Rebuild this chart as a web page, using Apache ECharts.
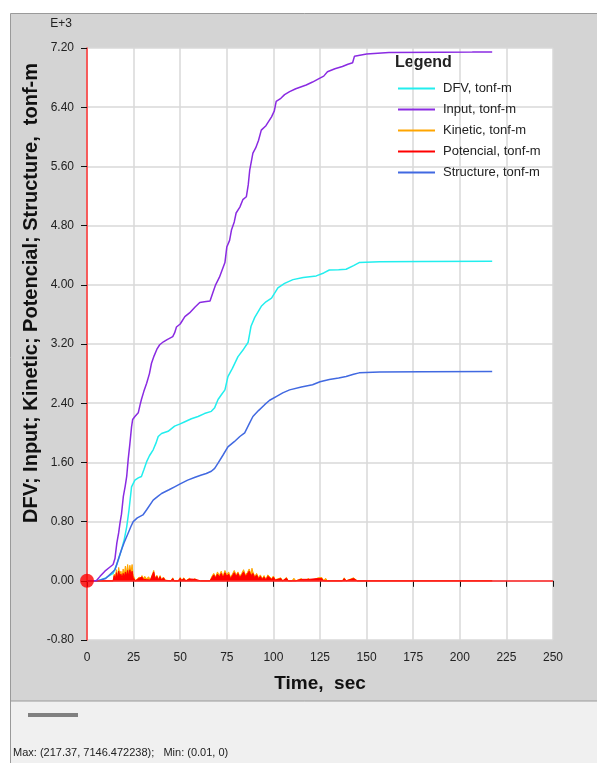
<!DOCTYPE html>
<html>
<head>
<meta charset="utf-8">
<title>Energy</title>
<script src="https://cdn.jsdelivr.net/npm/echarts@6/dist/echarts.min.js"></script>
<style>
  html, body { margin: 0; padding: 0; background: #fff; }
  #main { width: 597px; height: 763px; }
</style>
</head>
<body>
<div id="main"></div>
<script>
var chart = echarts.init(document.getElementById('main'));

// series names (legend)
var names = ['DFV, tonf-m', 'Input, tonf-m', 'Kinetic, tonf-m', 'Potencial, tonf-m', 'Structure, tonf-m'];

// [time sec, tonf-m]
var inputData = [
  [0,0],[5,0],[7,60],[9.6,130],[12,180],[14,220],[15,300],[16,510],[17,650],[17.7,780],
  [18.5,900],[19.5,1140],[20.5,1280],[21.3,1410],[22.1,1640],[23,1850],[23.9,2080],[24.5,2180],
  [25.7,2220],[27.5,2270],[28.5,2380],[29.2,2450],[30.5,2560],[32,2670],[33.5,2800],[34.6,2940],
  [36,3040],[37.5,3130],[39,3190],[41,3230],[43,3260],[46,3300],[47,3350],[48,3430],[50,3470],
  [52.5,3570],[55,3620],[58,3700],[60.5,3760],[63,3770],[66,3780],[67.6,3900],[69,4000],[71,4100],
  [72.5,4200],[74,4300],[75,4510],[76.5,4600],[77.5,4740],[79,4850],[80,4970],[82,5050],[83.6,5150],
  [85.5,5190],[86.5,5350],[87.3,5550],[89,5780],[90.5,5850],[92,5950],[93.5,6090],[96,6150],
  [99,6270],[100.5,6350],[101.5,6480],[104,6520],[106,6570],[108.7,6610],[112,6650],[117.6,6700],
  [121,6740],[124.7,6790],[127,6820],[129,6880],[130,6900],[133,6920],[137,6950],[140,6980],
  [142.5,7000],[143.5,7090],[150,7120],[162,7140],[190,7143],[206.7,7145],[217.37,7146.47]
];

var dfvData = [
  [0,0],[6,0],[10,40],[14,100],[16,220],[18.5,420],[20,560],[21.3,730],[22.5,950],[23.9,1270],
  [25.7,1360],[27.5,1390],[29.2,1410],[30.5,1500],[32,1610],[33.5,1690],[35.5,1770],[37,1860],
  [38.2,1950],[40,1990],[43.5,2020],[47,2090],[50,2120],[52.5,2150],[56,2190],[59.6,2220],
  [63,2260],[66.7,2290],[68.5,2340],[70.3,2450],[72,2510],[74,2580],[75.6,2760],[78,2870],
  [81,3030],[84,3130],[86.4,3220],[88,3440],[90,3560],[93.5,3710],[96,3770],[99,3820],[101,3900],
  [102.4,3960],[106,4020],[110.5,4070],[116,4100],[123,4120],[127,4160],[130,4200],[135,4205],
  [139,4210],[143,4260],[146,4300],[157,4310],[180,4315],[217.37,4318]
];

var structureData = [
  [0,0],[6,0],[10,30],[15,150],[18.5,420],[20,520],[22,640],[23.5,730],[24.8,800],[27,850],
  [30,890],[32,960],[35.5,1090],[38,1140],[40,1180],[44,1230],[47,1270],[50,1310],[54,1360],
  [58,1400],[61.4,1430],[64,1450],[66.7,1480],[68.5,1520],[70.3,1590],[73,1700],[75.6,1810],
  [79,1880],[82,1950],[84.6,2000],[87,2120],[89,2220],[92,2300],[95.3,2380],[98,2440],[101.5,2490],
  [105,2540],[108.7,2580],[115,2620],[121,2650],[125,2690],[130,2720],[135,2740],[139,2760],
  [143,2790],[146,2810],[157,2820],[180,2825],[217.37,2830]
];

var kineticData = [
  [0,0],[14,0],[14.6,90],[15.2,40],[15.8,150],[16.4,60],[17,180],[17.6,90],[18.2,130],[18.8,50],
  [19.4,160],[20,80],[20.6,200],[21.2,100],[21.8,220],[22.4,90],[23,210],[23.6,120],[24.2,220],
  [24.8,70],[25.4,40],[26,0],[27,20],[28,50],[28.6,15],[29.5,70],[30.3,30],[31,60],[32,25],
  [33,55],[34,15],[35,30],[35.8,140],[36.5,40],[37.5,75],[38.3,20],[39.2,70],[40,15],[41,50],
  [42,10],[43,0],[45,0],[46,40],[46.8,0],[49,0],[50,45],[50.8,10],[52,40],[53,0],[55,35],[56,0],
  [58,30],[59,0],[61,0],[66,0],[67,60],[68,100],[69,50],[70,120],[71,70],[72,130],[73,60],
  [74,140],[75,80],[76,120],[77,50],[78,90],[79,140],[80,80],[81,120],[82,60],[83,100],[84,150],
  [85,80],[86,110],[87,160],[88,90],[88.5,170],[89,120],[90,60],[91,100],[92,45],[93,80],
  [94,30],[95,70],[96,20],[97,80],[98,90],[99,30],[100,65],[101,15],[102,0],[104,40],[105,0],
  [107,45],[108,0],[110,0],[111,35],[112,0],[115,30],[116,0],[119,30],[120,0],[124,40],[125,15],
  [126,45],[127,0],[128,35],[129,0],[137,0],[138,40],[139,0],[143,40],[144,65],[145,0],[217.37,0]
];

var potencialData = [
  [0,0],[14,0],[14.6,70],[15.2,20],[15.8,110],[16.4,40],[17,130],[17.6,60],[18.2,90],[18.8,30],
  [19.4,100],[20,50],[20.6,120],[21.2,70],[21.8,140],[22.4,60],[23,150],[23.6,80],[24.2,130],
  [24.8,40],[25.4,20],[26,0],[27,10],[28,35],[28.6,10],[29.5,50],[30.3,20],[31,45],[32,15],
  [33,40],[34,10],[35,20],[35.8,120],[36.5,30],[37.5,60],[38.3,15],[39.2,55],[40,10],[41,40],
  [42,5],[43,0],[45,0],[46,30],[46.8,0],[49,0],[50,35],[50.8,5],[52,30],[53,0],[55,25],[56,0],
  [58,20],[59,0],[61,0],[66,0],[67,40],[68,80],[69,40],[70,90],[71,50],[72,100],[73,40],
  [74,110],[75,60],[76,90],[77,30],[78,70],[79,110],[80,60],[81,100],[82,40],[83,80],[84,120],
  [85,60],[86,90],[87,130],[88,70],[89,100],[90,40],[91,80],[92,30],[93,60],[94,20],[95,50],
  [96,10],[97,60],[98,70],[99,20],[100,50],[101,10],[102,0],[104,30],[105,0],[107,35],[108,0],
  [110,0],[111,25],[112,0],[115,20],[116,0],[119,20],[120,0],[124,30],[125,10],[126,30],[127,0],
  [128,25],[129,0],[137,0],[138,30],[139,0],[143,30],[144,50],[145,0],[217.37,0]
];

var originPoint = [[0, 0]];

var FONT = 'Liberation Sans, Arial, sans-serif';

var option = {
    backgroundColor: '#ffffff',
    animation: false,
    graphic: [
        // outer gray panel
        { type: 'rect', z: -10, shape: { x: 10.5, y: 13.5, width: 600, height: 688 },
          style: { fill: '#d4d4d4', stroke: '#9a9a9a', lineWidth: 1 } },
        // status strip at the bottom
        { type: 'rect', z: -10, shape: { x: 10.5, y: 701, width: 600, height: 70 },
          style: { fill: '#f0f0f0', stroke: '#9a9a9a', lineWidth: 1 } },
        { type: 'rect', z: -9, shape: { x: 28, y: 713, width: 50, height: 4 },
          style: { fill: '#808080' } },
        { type: 'text', style: { x: 13, y: 753, text: 'Max: (217.37, 7146.472238);   Min: (0.01, 0)',
          font: '11px ' + FONT, fill: '#222', textVerticalAlign: 'middle' } },
        // exponent label
        { type: 'text', style: { x: 61, y: 18, text: 'E+3', font: '12px ' + FONT, fill: '#222', textAlign: 'center' } },
        // axis titles
        { type: 'text', x: 31, y: 293, rotation: Math.PI / 2,
          style: { x: 0, y: 0, text: 'DFV; Input; Kinetic; Potencial; Structure,  tonf-m',
            font: 'bold 20px ' + FONT, fill: '#111', textAlign: 'center', textVerticalAlign: 'middle' } },
        { type: 'text', style: { x: 320, y: 684, text: 'Time,  sec', font: 'bold 19px ' + FONT,
          fill: '#111', textAlign: 'center', textVerticalAlign: 'middle' } },
        // legend title
        { type: 'text', style: { x: 395, y: 63, text: 'Legend', font: 'bold 16px ' + FONT,
          fill: '#222', textVerticalAlign: 'middle' } }
    ],
    legend: {
        data: names,
        orient: 'vertical',
        left: 398,
        top: 81,
        padding: 0,
        itemWidth: 37,
        itemHeight: 2,
        itemGap: 6,
        icon: 'rect',
        selectedMode: false,
        textStyle: { fontSize: 13, fontFamily: FONT, color: '#222', lineHeight: 15, padding: [0, 0, 0, 3] }
    },
    grid: {
        left: 87, top: 48, right: 44, bottom: 123,
        show: true, backgroundColor: '#ffffff', borderWidth: 0
    },
    xAxis: {
        type: 'value',
        min: 0, max: 250, interval: 25,
        axisLine: { show: false },
        axisTick: { show: true, length: 6, lineStyle: { color: '#111' } },
        axisLabel: { fontSize: 12, fontFamily: FONT, color: '#222', margin: 12 },
        splitLine: { show: true, lineStyle: { color: '#d9d9d9', width: 1.5 } }
    },
    yAxis: {
        type: 'value',
        min: -800, max: 7200, interval: 800,
        axisLine: { show: true, onZero: false, lineStyle: { color: '#ff3030', width: 1.5 } },
        axisTick: { show: true, length: 6, lineStyle: { color: '#111' } },
        axisLabel: {
            fontSize: 12, fontFamily: FONT, color: '#222', margin: 13,
            formatter: function (v) { return (v / 1000).toFixed(2); }
        },
        splitLine: { show: true, lineStyle: { color: '#d9d9d9', width: 1.5 } }
    },
    series: [
        {
            name: names[2], type: 'line', data: kineticData, showSymbol: false, z: 2,
            itemStyle: { color: '#ffa500' },
            lineStyle: { color: '#ffa500', width: 1 },
            areaStyle: { color: '#ffa500', opacity: 1 }
        },
        {
            name: names[3], type: 'line', data: potencialData, showSymbol: false, z: 3,
            itemStyle: { color: '#ff0000' },
            lineStyle: { color: '#ff0000', width: 1 },
            areaStyle: { color: '#ff0000', opacity: 1 },
            markLine: {
                silent: true, symbol: 'none', label: { show: false },
                lineStyle: { color: '#ff2020', type: 'solid', width: 1.5 },
                data: [{ yAxis: 0 }]
            }
        },
        {
            name: names[0], type: 'line', data: dfvData, showSymbol: false, z: 4,
            itemStyle: { color: '#22eeee' },
            lineStyle: { color: '#22eeee', width: 1.5 }
        },
        {
            name: names[1], type: 'line', data: inputData, showSymbol: false, z: 5,
            itemStyle: { color: '#8a2be2' },
            lineStyle: { color: '#8a2be2', width: 1.5 }
        },
        {
            name: names[4], type: 'line', data: structureData, showSymbol: false, z: 4,
            itemStyle: { color: '#4169e1' },
            lineStyle: { color: '#4169e1', width: 1.5 }
        },
        {
            type: 'scatter', data: originPoint, symbolSize: 14, z: 10,
            itemStyle: { color: '#ff0000' }
        }
    ]
};

chart.setOption(option);
</script>
</body>
</html>
